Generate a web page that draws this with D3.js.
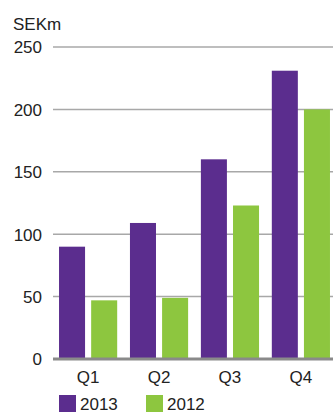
<!DOCTYPE html>
<html><head><meta charset="utf-8">
<script src="https://cdn.jsdelivr.net/npm/d3@7"></script>
<style>body{margin:0;background:#fff}svg{display:block}text{font-family:"Liberation Sans",Arial,sans-serif;fill:#222}</style>
</head><body><svg id="c" width="333" height="414"></svg>
<script>
const categories = ["Q1","Q2","Q3","Q4"];
const series = ["2013","2012"];
const values2013 = [90, 109, 160, 231];
const values2012 = [47, 49, 123, 200];
const yTicks = [0, 50, 100, 150, 200, 250];
const unitLabel = "SEKm";
const colors = ["#5b2d8e", "#8dc63f"];

const data = categories.map((c, i) => ({cat: c, vals: [values2013[i], values2012[i]]}));
const svg = d3.select("#c");
const y = d3.scaleLinear().domain([0, 250]).range([359, 47]);
const x0 = d3.scaleBand().domain(categories).range([53, 336]).paddingInner(0.18).paddingOuter(0.085);
const x1 = d3.scaleBand().domain(series).range([0, x0.bandwidth()]).paddingInner(0.19);

// gridlines
const yAxis = d3.axisLeft(y).tickValues(yTicks).tickSize(0).tickPadding(0);
svg.append("g").selectAll("line").data(yTicks.filter(d => d > 0)).join("line")
  .attr("x1", 53).attr("x2", 333).attr("y1", d => y(d)).attr("y2", d => y(d))
  .attr("stroke", "#a8a8a8").attr("stroke-width", 1.5);

// bars
const g = svg.append("g").selectAll("g").data(data).join("g")
  .attr("transform", d => `translate(${x0(d.cat)},0)`);
g.selectAll("rect").data(d => d.vals.map((v, i) => ({s: series[i], v, i}))).join("rect")
  .attr("x", d => x1(d.s)).attr("width", x1.bandwidth())
  .attr("y", d => y(d.v)).attr("height", d => y(0) - y(d.v))
  .attr("fill", d => colors[d.i]);

// baseline
svg.append("line").attr("x1", 53).attr("x2", 333).attr("y1", y(0)).attr("y2", y(0))
  .attr("stroke", "#8a8a8a").attr("stroke-width", 3);

// y labels
const ya = svg.append("g").attr("transform", "translate(42,0)").call(yAxis);
ya.select(".domain").remove();
ya.selectAll("text").attr("font-size", 17).attr("fill", "#222").attr("dy", "0.35em")
  .style("font-family", '"Liberation Sans",Arial,sans-serif');

svg.append("text").attr("x", 13).attr("y", 30).attr("font-size", 17).text(unitLabel);

// x labels
const xa = svg.append("g").attr("transform", `translate(0,${y(0)})`)
  .call(d3.axisBottom(x0).tickSize(0).tickPadding(8));
xa.select(".domain").remove();
xa.selectAll("text").attr("font-size", 17).attr("fill", "#222").attr("dy", "0.95em")
  .style("font-family", '"Liberation Sans",Arial,sans-serif');

// legend
const legX = [59, 146];
const leg = svg.append("g").selectAll("g").data(series).join("g")
  .attr("transform", (d, i) => `translate(${legX[i]},395)`);
leg.append("rect").attr("width", 17).attr("height", 17).attr("fill", (d, i) => colors[i]);
leg.append("text").attr("x", 21).attr("y", 15).attr("font-size", 17).text(d => d);
</script></body></html>
